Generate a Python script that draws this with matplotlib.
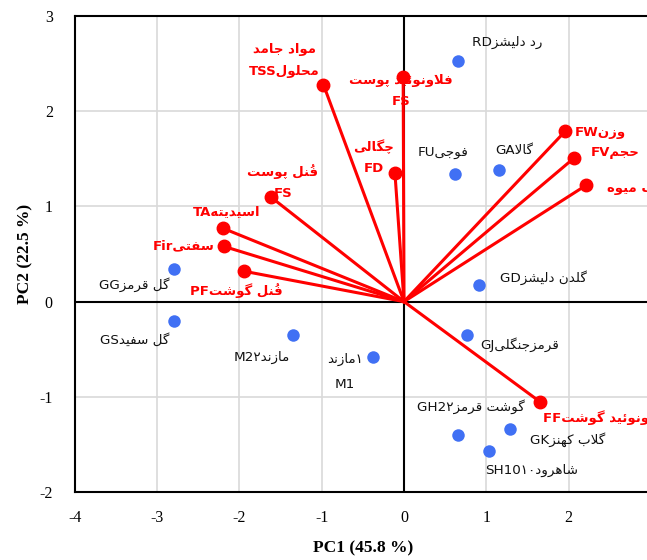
import re
import matplotlib
matplotlib.use("Agg")
import matplotlib.pyplot as plt

# cultivar scores
cultivars = ["رد دلیشزRD", "فوجیFU", "گالاGA", "گلدن دلیشزGD", "قرمزجنگلیGJ",
             "گل قرمزGG", "گل سفیدGS", "مازند۲M2", "۱مازند\nM1",
             "گوشت قرمز۲GH2", "گلاب کهنزGK", "شاهرود۱۰SH10"]
pc1 = [0.66, 0.62, 1.16, 0.91, 0.77, -2.80, -2.80, -1.35, -0.38, 0.66, 1.29, 1.03]
pc2 = [2.53, 1.34, 1.38, 0.17, -0.35, 0.34, -0.20, -0.35, -0.58, -1.40, -1.34, -1.57]

# trait loadings
traits = ["مواد جامد\nمحلولTSS", "فلاونوئید پوست\nFS", "چگالی\nFD", "وزنFW", "حجمFV",
          "آب میوه", "فنُل پوست\nFS", "اسیدیتهTA", "سفتیFir", "فنُل گوشتPF",
          "فلاونوئید گوشتFF"]
load1 = [-0.98, -0.01, -0.11, 1.96, 2.07, 2.21, -1.62, -2.20, -2.19, -1.95, 1.65]
load2 = [2.28, 2.36, 1.35, 1.79, 1.51, 1.22, 1.10, 0.77, 0.58, 0.32, -1.05]

# label placement (pixel offsets, alignment)
cult_pos = [(14, 18, 'left'), (-12, 22, 'center'), (15, 20, 'center'), (21, 8, 'left'),
            (13, -10, 'left'), (-4, -15, 'right'), (-4, -19, 'right'), (-3, -22, 'right'),
            (-28, -15, 'center'), (13, 28, 'center'), (20, -10, 'left'), (43, -19, 'center')]
trait_pos = [(-39, 24, 'center'), (-2, -14, 'center'), (-21, 16, 'center'), (10, -1, 'left'),
             (16, 5, 'left'), (21, -2, 'left'), (12, 15, 'center'), (4, 17, 'center'),
             (-9, 1, 'right'), (-7, -19, 'center'), (3, -16, 'left')]

# --- minimal arabic/persian shaping (matplotlib has no bidi/shaping) ---
FORMS = {
    'ا': (0xFE8D, 0xFE8E, None, None), 'آ': (0xFE81, 0xFE82, None, None),
    'ب': (0xFE8F, 0xFE90, 0xFE91, 0xFE92), 'پ': (0xFB56, 0xFB57, 0xFB58, 0xFB59),
    'ت': (0xFE95, 0xFE96, 0xFE97, 0xFE98), 'ج': (0xFE9D, 0xFE9E, 0xFE9F, 0xFEA0),
    'چ': (0xFB7A, 0xFB7B, 0xFB7C, 0xFB7D), 'ح': (0xFEA1, 0xFEA2, 0xFEA3, 0xFEA4),
    'د': (0xFEA9, 0xFEAA, None, None), 'ر': (0xFEAD, 0xFEAE, None, None),
    'ز': (0xFEAF, 0xFEB0, None, None), 'س': (0xFEB1, 0xFEB2, 0xFEB3, 0xFEB4),
    'ش': (0xFEB5, 0xFEB6, 0xFEB7, 0xFEB8), 'ف': (0xFED1, 0xFED2, 0xFED3, 0xFED4),
    'ق': (0xFED5, 0xFED6, 0xFED7, 0xFED8), 'ک': (0xFB8E, 0xFB8F, 0xFB90, 0xFB91),
    'گ': (0xFB92, 0xFB93, 0xFB94, 0xFB95), 'ل': (0xFEDD, 0xFEDE, 0xFEDF, 0xFEE0),
    'م': (0xFEE1, 0xFEE2, 0xFEE3, 0xFEE4), 'ن': (0xFEE5, 0xFEE6, 0xFEE7, 0xFEE8),
    'ه': (0xFEE9, 0xFEEA, 0xFEEB, 0xFEEC), 'و': (0xFEED, 0xFEEE, None, None),
    'ی': (0xFBFC, 0xFBFD, 0xFBFE, 0xFBFF), 'ئ': (0xFE89, 0xFE8A, 0xFE8B, 0xFE8C),
}
LAMALEF = {'ا': (0xFEFB, 0xFEFC), 'آ': (0xFEF5, 0xFEF6)}


def is_mark(c):
    return '\u064B' <= c <= '\u065F'


def shape_run(run):
    letters = []  # list of [char, marks]
    for c in run:
        if is_mark(c) and letters:
            letters[-1][1] += c
        else:
            letters.append([c, ''])
    clusters = []
    i = 0
    while i < len(letters):
        c, marks = letters[i]
        prev = letters[i - 1][0] if i > 0 else None
        nxt = letters[i + 1][0] if i + 1 < len(letters) else None
        join_prev = prev in FORMS and FORMS[prev][2] is not None and c in FORMS
        if c == 'ل' and nxt in LAMALEF:
            g = chr(LAMALEF[nxt][1 if join_prev else 0])
            clusters.append(g + marks + letters[i + 1][1])
            i += 2
            continue
        if c in FORMS:
            f = FORMS[c]
            join_next = f[2] is not None and nxt in FORMS
            if join_prev and join_next:
                g = f[3]
            elif join_prev:
                g = f[1]
            elif join_next:
                g = f[2]
            else:
                g = f[0]
            clusters.append(chr(g) + marks)
        else:
            clusters.append(c + marks)
        i += 1
    return ''.join(clusters[::-1])


def rtl(s):
    out = []
    for line in s.split('\n'):
        runs = re.findall(r'[\u0600-\u06EF ]+|[\u06F0-\u06F9]+|[^\u0600-\u06FF]+', line)
        vis = []
        for r in runs[::-1]:
            if re.match(r'[\u0600-\u06EF]', r[0]) or r[0] == ' ':
                vis.append(shape_run(r))
            else:
                vis.append(r)
        out.append(''.join(vis))
    return '\n'.join(out)


plt.rcParams['font.family'] = ['DejaVu Sans']
plt.rcParams['axes.unicode_minus'] = False

fig = plt.figure(figsize=(6.47, 5.6), dpi=100)
ax = fig.add_axes([0.1159, 0.1214, 0.8899, 0.85])

ax.set_xlim(-4, 3)
ax.set_ylim(-2, 3)
ax.set_xticks(range(-4, 4))
ax.set_yticks(range(-2, 4))
ax.grid(True, color='#d9d9d9', lw=1.2, zorder=0)
ax.set_axisbelow(True)
ax.axhline(0, color='black', lw=1.5, zorder=1)
ax.axvline(0, color='black', lw=1.5, zorder=1)
for sp in ax.spines.values():
    sp.set_linewidth(1.5)
    sp.set_color('black')

ax.tick_params(length=0, labelsize=11.5)
ax.tick_params(axis='y', pad=16)
ax.tick_params(axis='x', pad=13)
for lab in ax.get_xticklabels() + ax.get_yticklabels():
    lab.set_family('Liberation Serif')

ax.set_xlabel('PC1 (45.8 %)', family='Liberation Serif', fontweight='bold', fontsize=12.5, labelpad=10)
ax.set_ylabel('PC2 (22.5 %)', family='Liberation Serif', fontweight='bold', fontsize=12.5, labelpad=4)

# vectors
for x, y in zip(load1, load2):
    ax.plot([0, x], [0, y], color='#ff0000', lw=2.2, zorder=3)
ax.plot(load1, load2, 'o', color='#ff0000', ms=9, zorder=5)

# cultivar points
ax.plot(pc1, pc2, 'o', color='#4070f4', ms=9, zorder=5, mec='none')

for lab, x, y, (dx, dy, ha) in zip(cultivars, pc1, pc2, cult_pos):
    ls = 2.15 if '\n' in lab else 1.2
    ax.annotate(rtl(lab), (x, y), xytext=(dx, dy), textcoords='offset pixels',
                ha=ha, va='center', fontsize=9.7, color='#111111',
                linespacing=ls, multialignment='center', zorder=4, annotation_clip=False)

for lab, x, y, (dx, dy, ha) in zip(traits, load1, load2, trait_pos):
    ls = 1.85 if '\n' in lab else 1.2
    ax.annotate(rtl(lab), (x, y), xytext=(dx, dy), textcoords='offset pixels',
                ha=ha, va='center', fontsize=9.5, fontweight='bold', color='#ff0000',
                linespacing=ls, multialignment='center', zorder=4, annotation_clip=False)

fig.savefig('out.png', dpi=100)
